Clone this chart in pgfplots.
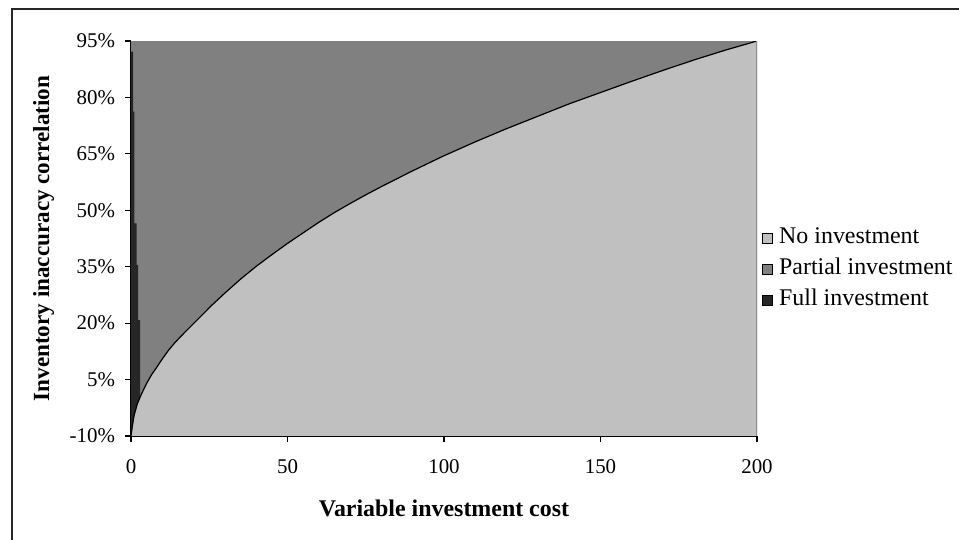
\documentclass[border=0pt]{standalone}
\usepackage{fontspec}
\setmainfont{Liberation Serif}
\usepackage{pgfplots}
\pgfplotsset{compat=1.18}

\definecolor{noinv}{RGB}{192,192,192}
\definecolor{partinv}{RGB}{128,128,128}
\definecolor{fullinv}{RGB}{38,38,38}

% Boundary between "no investment" and "partial investment" (x, correlation in %)
\newcommand{\boundary}{
(0,-10) (0.5,-7) (1,-4.5) (2,-1.5) (3,0.5) (4,2.3) (5,4.0) (6.5,6.2) (8,8.0)
(10,10.5) (12,12.8) (14,14.8) (17,17.4) (20,19.9) (23,22.4) (26,24.9)
(30,28.0) (35,31.7) (40,35.1) (45,38.2) (50,41.2) (55,44.0) (60,46.8)
(65,49.4) (70,51.8) (75,54.1) (80,56.3) (90,60.5) (100,64.5) (110,68.2)
(120,71.7) (130,75.0) (140,78.3) (150,81.3) (160,84.3) (170,87.2)
(180,90.0) (190,92.6) (200,95)}

\begin{document}
\begin{tikzpicture}
\useasboundingbox (0,0) rectangle (479.5bp,270bp);
\fill[white] (0,0) rectangle (479.5bp,270bp);
% chart frame
\draw[black!85, line width=0.9bp] (6bp,-20bp) -- (6bp,265.5bp) -- (520bp,265.5bp);
\begin{axis}[
  at={(65.5bp,52bp)}, anchor=south west,
  scale only axis, width=313bp, height=197.5bp,
  xmin=0, xmax=200, ymin=-10, ymax=95,
  axis x line*=bottom, axis y line*=left,
  axis line style={line width=0.8bp, black},
  xtick={0,50,...,200}, ytick={-10,5,...,95},
  tick align=outside, major tick length=3bp,
  tick style={black, line width=0.6bp},
  yticklabel={\pgfmathprintnumber{\tick}\%},
  /pgf/number format/assume math mode=true,
  tick label style={font=\fontsize{10.5}{12}\selectfont},
  xticklabel style={yshift=-5.5bp},
  yticklabel style={xshift=-1.5bp},
  xlabel={Variable investment cost},
  ylabel={Inventory inaccuracy correlation},
  every axis x label/.style={at={(axis description cs:0.5,-0.182)}, anchor=center, font=\fontsize{12}{14}\selectfont\bfseries},
  every axis y label/.style={at={(axis description cs:-0.1398,0.5)}, rotate=90, anchor=center, font=\fontsize{11.6}{13}\selectfont\bfseries},
  legend style={at={(axis description cs:1.0,0.423)}, anchor=west, xshift=2.5bp,
    draw=none, fill=none, inner sep=0pt, row sep=0pt,
    font=\fontsize{12}{14}\selectfont,
    nodes={text height=8bp, text depth=2bp, inner ysep=2.75bp, inner xsep=3bp}},
  legend cell align=left,
  legend image code/.code={\draw[#1, draw=black, line width=0.4bp] (0bp,-2.5bp) rectangle (5bp,2.5bp);},
]
% no investment: below the boundary
\addplot[fill=noinv, draw=none] coordinates {\boundary (200,-10)} -- cycle;
\addlegendentry{No investment}
% partial investment: above the boundary
\addplot[fill=partinv, draw=none] coordinates {\boundary (200,95) (0,95)} -- cycle;
\addlegendentry{Partial investment}
% full investment: thin stepped strip next to the axis
\addplot[fill=fullinv, draw=none] coordinates {
(0,-10) (0.5,-7) (1,-4.5) (2,-1.5) (2.9,0.3)
(2.9,20.8) (2.3,20.8) (2.3,35.5) (1.8,35.5) (1.8,46.5) (1.06,46.5)
(1.06,76.2) (0.64,76.2) (0.64,92.2) (0,92.2)} -- cycle;
\addlegendentry{Full investment}
% boundary line
\addplot[black, line width=0.6bp, forget plot] coordinates {\boundary};
\draw[black!45, line width=0.6bp] (rel axis cs:1,0) -- (rel axis cs:1,1);
\end{axis}
\end{tikzpicture}
\end{document}
